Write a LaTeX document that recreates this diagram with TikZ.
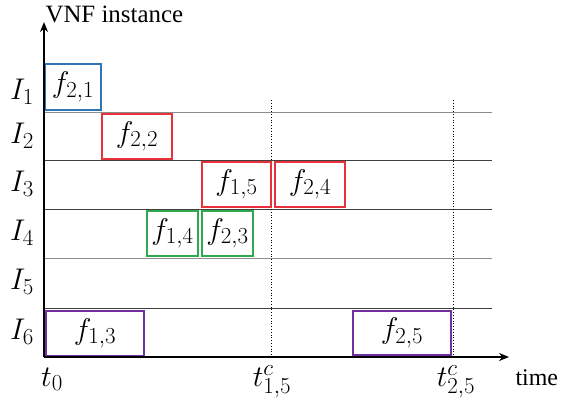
\RequirePackage{fix-cm}
\documentclass[tikz,border=0pt]{standalone}
\usepackage{fontspec}
\setmainfont{Liberation Serif}
\usetikzlibrary{arrows.meta}
\DeclareMathSizes{30}{30}{23}{18}
\definecolor{cblue}{HTML}{2E75B6}
\definecolor{cred}{HTML}{E8313A}
\definecolor{cgreen}{HTML}{2FA84F}
\definecolor{cpurple}{HTML}{7030A0}
\tikzset{
  mathfont/.style={font=\fontsize{30}{34}\selectfont},
  slot/.style={draw, line width=1.3bp, inner sep=0pt, minimum height=45bp, mathfont},
  lane/.style={line width=1bp, draw=black!75},
  lanelight/.style={line width=1bp, draw=black!45},
  axis/.style={line width=1.5bp, -{Stealth[length=10bp,width=8bp]}},
  mark line/.style={dotted, line width=0.8bp},
  inst/.style={mathfont},
  tlabel/.style={mathfont, anchor=base}
}
\begin{document}
\begin{tikzpicture}[x=1bp,y=-1bp]
\useasboundingbox (0,0) rectangle (564,408);
% coordinates
\coordinate (o) at (44,357);
\coordinate (ytip) at (44,22);
\coordinate (xtip) at (509,357);
\foreach \y/\n in {112/a,160/b,209/c,258/d,308/e}{
  \coordinate (L\n) at (44,\y);
  \coordinate (R\n) at (492,\y);
}
\coordinate (d1t) at (271,100);
\coordinate (d1b) at (271,357);
\coordinate (d2t) at (453,100);
\coordinate (d2b) at (453,357);
% lanes
\draw[lanelight] (La) -- (Ra);
\draw[lane] (Lb) -- (Rb);
\draw[lane] (Lc) -- (Rc);
\draw[lanelight] (Ld) -- (Rd);
\draw[lane] (Le) -- (Re);
% dotted marks
\draw[mark line] (d1t) -- (d1b);
\draw[mark line] (d2t) -- (d2b);
% boxes
\node[slot, draw=cblue, minimum width=56bp, minimum height=46bp] (f21) at (73,87) {$f_{2,1}$};
\node[slot, draw=cred, minimum width=70bp] (f22) at (137,136.5) {$f_{2,2}$};
\node[slot, draw=cred, minimum width=69bp] (f15) at (236.5,184.5) {$f_{1,5}$};
\node[slot, draw=cred, minimum width=70bp] (f24) at (310,184.5) {$f_{2,4}$};
\node[slot, draw=cgreen, minimum width=51bp] (f14) at (172.5,233.5) {$f_{1,4}$};
\node[slot, draw=cgreen, minimum width=51bp] (f23) at (227.5,233.5) {$f_{2,3}$};
\node[slot, draw=cpurple, minimum width=98bp] (f13) at (95,333.5) {$f_{1,3}$};
\node[slot, draw=cpurple, minimum width=98bp, minimum height=44bp] (f25) at (402,333) {$f_{2,5}$};
% axes
\draw[axis] (o) -- (ytip);
\draw[axis] (o) -- (xtip);
% labels
\node[anchor=west, font=\fontsize{25}{28}\selectfont] (ylab) at (42,14) {VNF instance};
\node[anchor=west, font=\fontsize{24}{28}\selectfont] (xlab) at (512,378) {time};
\node[inst] (I1) at (22,92) {$I_1$};
\node[inst] (I2) at (22,136) {$I_2$};
\node[inst] (I3) at (22,184) {$I_3$};
\node[inst] (I4) at (22,233) {$I_4$};
\node[inst] (I5) at (22,282) {$I_5$};
\node[inst] (I6) at (22,332) {$I_6$};
\node[tlabel] (t0) at (52,386) {$t_0$};
\node[tlabel] (t15) at (272,386) {$t^c_{1,5}$};
\node[tlabel] (t25) at (456,386) {$t^c_{2,5}$};
\end{tikzpicture}
\end{document}
